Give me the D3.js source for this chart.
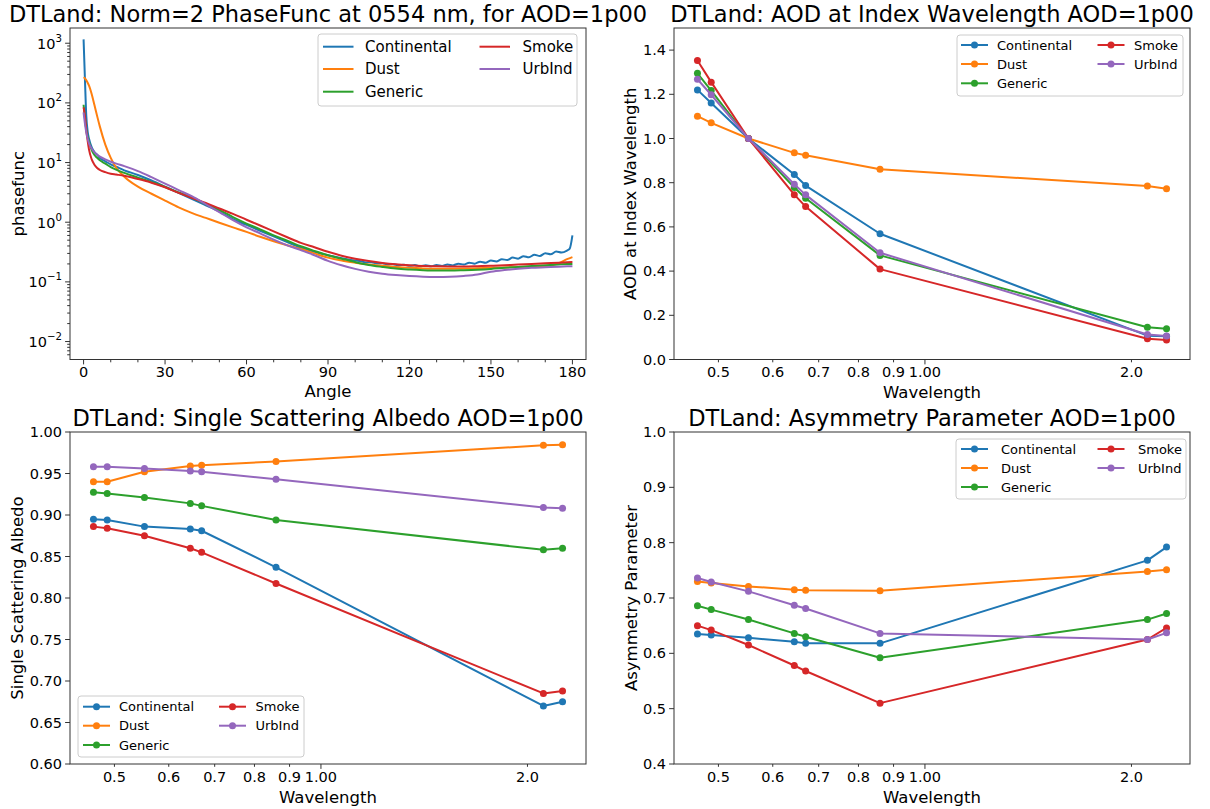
<!DOCTYPE html>
<html><head><meta charset="utf-8">
<script src="https://cdn.jsdelivr.net/npm/d3@7"></script>
<style>
body{margin:0;background:#fff;}
svg{font-family:"DejaVu Sans",sans-serif;display:block;}
</style></head><body>
<svg id="c" width="1210" height="809"></svg>
<script>
// ---------------- DATA ----------------
const seriesNames = ["Continental","Dust","Generic","Smoke","UrbInd"];
const seriesColors = ["#1f77b4","#ff7f0e","#2ca02c","#d62728","#9467bd"];

// Phase function (angle in degrees)
const angleGrid = [0,0.5,1,1.5,2,3,4,5,6,8,10,12,15,20,25,30,35,40,45,50,55,60,65,70,75,80,85,90,95,100,105,110,115,120,125,130,135,140,145,150,155,160,165,170,175,178,180];
const angleCont = [0,0.5,1,1.5,2,3,4,5,6,8,10,12,15,20,25,30,35,40,45,50,55,60,65,70,75,80,85,90,95,100,
  102,104,106,108,110,112,114,116,118,120,122,124,126,128,130,132,134,136,138,140,142,144,146,148,150,
  152,154,156,158,160,162,164,166,168,170,172,174,176,178,179,180];
const pfContinental = [1160,250,60,33,25,18,15,13.5,11.9,10.5,9.3,8.5,7.4,6.2,5.0,3.95,3.1,2.45,1.92,1.5,1.13,0.9,0.72,0.58,0.465,0.375,0.32,0.28,0.25,0.228,
  0.222,0.212,0.214,0.203,0.205,0.195,0.198,0.189,0.194,0.186,0.191,0.183,0.19,0.183,0.192,0.185,0.196,0.189,0.202,0.195,0.21,0.202,0.218,0.21,0.228,
  0.22,0.24,0.232,0.255,0.245,0.27,0.258,0.285,0.272,0.302,0.29,0.322,0.31,0.335,0.36,0.6];
const pfDust = [269,258,240,218,195,140,92,60,40,20,12,8.2,5.8,3.95,3.0,2.3,1.77,1.42,1.18,0.98,0.82,0.69,0.57,0.48,0.41,0.355,0.3,0.255,0.228,0.21,0.196,0.186,0.178,0.172,0.168,0.166,0.166,0.167,0.169,0.172,0.175,0.178,0.18,0.183,0.205,0.24,0.26];
const pfGeneric = [93,55,35,27,22,16.2,13.4,12,10.9,9.6,8.4,7.6,6.7,5.6,4.7,3.9,3.15,2.6,2.0,1.6,1.22,0.95,0.76,0.6,0.49,0.395,0.33,0.28,0.245,0.215,0.192,0.178,0.167,0.161,0.157,0.155,0.155,0.157,0.16,0.165,0.172,0.178,0.184,0.19,0.196,0.199,0.2];
const pfSmoke = [84,60,35,23,16.5,11.3,9.2,8.1,7.5,6.9,6.5,6.3,6.0,5.3,4.6,3.85,3.1,2.55,2.1,1.7,1.38,1.1,0.88,0.7,0.56,0.45,0.38,0.32,0.275,0.245,0.224,0.208,0.197,0.19,0.185,0.182,0.181,0.181,0.183,0.186,0.19,0.195,0.2,0.205,0.21,0.213,0.215];
const pfUrbInd = [69,45,32,25,21,17,14.8,13.5,12.6,11.3,10.3,9.6,8.7,7.2,5.7,4.45,3.45,2.7,2.0,1.48,1.08,0.82,0.65,0.51,0.41,0.34,0.28,0.225,0.19,0.165,0.148,0.137,0.13,0.125,0.122,0.121,0.122,0.126,0.133,0.148,0.158,0.166,0.172,0.176,0.18,0.182,0.183];

// Wavelengths (micron)
const wavelengths = [0.466,0.488,0.553,0.645,0.670,0.860,2.110,2.250];
const aodContinental = [1.220,1.161,1.000,0.837,0.787,0.569,0.108,0.105];
const aodDust        = [1.101,1.071,1.000,0.935,0.924,0.861,0.785,0.773];
const aodGeneric     = [1.295,1.217,1.000,0.778,0.730,0.471,0.146,0.139];
const aodSmoke       = [1.353,1.255,1.000,0.746,0.692,0.409,0.094,0.088];
const aodUrbInd      = [1.268,1.198,1.000,0.793,0.745,0.483,0.113,0.106];

const ssaContinental = [0.895,0.894,0.886,0.883,0.881,0.837,0.670,0.675];
const ssaDust        = [0.940,0.940,0.952,0.959,0.960,0.9645,0.984,0.9846];
const ssaGeneric     = [0.9275,0.926,0.921,0.914,0.911,0.894,0.858,0.860];
const ssaSmoke       = [0.886,0.884,0.875,0.860,0.855,0.8175,0.685,0.688];
const ssaUrbInd      = [0.958,0.958,0.956,0.953,0.952,0.943,0.909,0.908];

const asyContinental = [0.635,0.633,0.628,0.621,0.618,0.618,0.768,0.792];
const asyDust        = [0.730,0.727,0.721,0.715,0.714,0.713,0.748,0.751];
const asyGeneric     = [0.686,0.679,0.661,0.636,0.630,0.592,0.661,0.672];
const asySmoke       = [0.650,0.642,0.615,0.578,0.568,0.510,0.625,0.646];
const asyUrbInd      = [0.736,0.729,0.712,0.687,0.681,0.636,0.625,0.637];

// Axis limits and tick labels
const angleLim = [-5,185];
const angleTicks = [0,30,60,90,120,150,180];
const pfLim = [0.005,1800];
const pfTicks = [1e-2,1e-1,1e0,1e1,1e2,1e3];
const pfTickExp = ["\u22122","\u22121","0","1","2","3"];
const wlTicks = [0.5,0.6,0.7,0.8,0.9,1.0,2.0];
const wlTickLabels = ["0.5","0.6","0.7","0.8","0.9","1.00","2.0"];
const aodLim = [0,1.5];
const aodTicks = [0,0.2,0.4,0.6,0.8,1.0,1.2,1.4];
const aodTickLabels = ["0.0","0.2","0.4","0.6","0.8","1.0","1.2","1.4"];
const ssaLim = [0.6,1.0];
const ssaTicks = [0.60,0.65,0.70,0.75,0.80,0.85,0.90,0.95,1.00];
const ssaTickLabels = ["0.60","0.65","0.70","0.75","0.80","0.85","0.90","0.95","1.00"];
const asyLim = [0.4,1.0];
const asyTicks = [0.4,0.5,0.6,0.7,0.8,0.9,1.0];
const asyTickLabels = ["0.4","0.5","0.6","0.7","0.8","0.9","1.0"];

const titles = ["DTLand: Norm=2 PhaseFunc at 0554 nm, for AOD=1p00",
                "DTLand: AOD at Index Wavelength AOD=1p00",
                "DTLand: Single Scattering Albedo AOD=1p00",
                "DTLand: Asymmetry Parameter AOD=1p00"];

// ---------------- DRAWING ----------------
const svg = d3.select("#c");
const SPINE = "#333";
const TICKFS = 14.5, LABFS = 16.5, TITFS = 22.5;

const boxes = [
  {x0:70, x1:586, y0:28, y1:359.5},
  {x0:674, x1:1190, y0:28, y1:359.5},
  {x0:70, x1:586, y0:432, y1:764},
  {x0:674, x1:1190, y0:432, y1:764}
];

function frame(g, b){
  g.append("rect").attr("x",b.x0).attr("y",b.y0).attr("width",b.x1-b.x0).attr("height",b.y1-b.y0)
   .attr("fill","none").attr("stroke",SPINE).attr("stroke-width",1);
}
function xTick(g,b,px,len){
  g.append("line").attr("x1",px).attr("x2",px).attr("y1",b.y1).attr("y2",b.y1+len).attr("stroke",SPINE).attr("stroke-width",1);
}
function yTick(g,b,py,len){
  g.append("line").attr("x1",b.x0-len).attr("x2",b.x0).attr("y1",py).attr("y2",py).attr("stroke",SPINE).attr("stroke-width",1);
}
function title(g,b,t){
  g.append("text").attr("x",(b.x0+b.x1)/2).attr("y",b.y0-6).attr("text-anchor","middle")
   .attr("font-size",TITFS).attr("fill","#000").text(t);
}
function xLabel(g,b,t,dy){
  g.append("text").attr("x",(b.x0+b.x1)/2).attr("y",b.y1+dy).attr("text-anchor","middle")
   .attr("font-size",LABFS).attr("fill","#000").text(t);
}
function yLabel(g,b,t,xb){
  const cy=(b.y0+b.y1)/2;
  g.append("text").attr("transform",`translate(${xb},${cy}) rotate(-90)`).attr("text-anchor","middle")
   .attr("font-size",LABFS).attr("fill","#000").text(t);
}

function legend(g, L, withMarkers){
  g.append("rect").attr("x",L.bx0).attr("y",L.by0).attr("width",L.bx1-L.bx0).attr("height",L.by1-L.by0)
   .attr("rx",3).attr("fill","#fff").attr("fill-opacity",0.8).attr("stroke","#cccccc").attr("stroke-width",1);
  seriesNames.forEach((name,i)=>{
    const col = i<3?0:1, row = i<3?i:i-3;
    const hx0 = L.hx[col], hx1 = hx0+L.hlen, yy = L.rows[row];
    g.append("line").attr("x1",hx0).attr("x2",hx1).attr("y1",yy).attr("y2",yy)
     .attr("stroke",seriesColors[i]).attr("stroke-width",2);
    if(withMarkers) g.append("circle").attr("cx",(hx0+hx1)/2).attr("cy",yy).attr("r",3.5).attr("fill",seriesColors[i]);
    g.append("text").attr("x",L.tx[col]).attr("y",yy).attr("dominant-baseline","central")
     .attr("font-size",L.fs).attr("fill","#000").text(name);
  });
}

// ---- Panel 1: phase function ----
(function(){
  const b = boxes[0];
  const g = svg.append("g");
  const x = d3.scaleLinear().domain(angleLim).range([b.x0,b.x1]);
  const y = d3.scaleLog().domain(pfLim).range([b.y1,b.y0]);
  const pfSeries = [
    {a:angleCont, v:pfContinental},
    {a:angleGrid, v:pfDust},
    {a:angleGrid, v:pfGeneric},
    {a:angleGrid, v:pfSmoke},
    {a:angleGrid, v:pfUrbInd}
  ];
  const line = d3.line().x(d=>x(d[0])).y(d=>y(d[1])).curve(d3.curveMonotoneX);
  pfSeries.forEach((s,i)=>{
    g.append("path").attr("d",line(s.a.map((a,k)=>[a,s.v[k]])))
     .attr("fill","none").attr("stroke",seriesColors[i]).attr("stroke-width",2).attr("stroke-linejoin","round");
  });
  frame(g,b);
  // x ticks
  d3.range(0,181,10).forEach(a=>{ if(a%30!==0) xTick(g,b,x(a),2.8); });
  angleTicks.forEach(a=>{
    xTick(g,b,x(a),4.9);
    g.append("text").attr("x",x(a)).attr("y",b.y1+17.5).attr("text-anchor","middle")
     .attr("font-size",TICKFS).attr("fill","#000").text(a);
  });
  // y ticks
  for(let k=-3;k<=3;k++){ for(let m=2;m<=9;m++){ const v=m*Math.pow(10,k); if(v>pfLim[0]&&v<pfLim[1]) yTick(g,b,y(v),2.8);} }
  pfTicks.forEach((v,i)=>{
    const py=y(v);
    yTick(g,b,py,4.9);
    const t=g.append("text").attr("x",b.x0-8).attr("y",py+5.5).attr("text-anchor","end")
      .attr("font-size",TICKFS).attr("fill","#000");
    t.append("tspan").text("10");
    t.append("tspan").attr("dy",-7).attr("font-size",10.2).text(pfTickExp[i]);
  });
  title(g,b,titles[0]);
  xLabel(g,b,"Angle",37);
  yLabel(g,b,"phasefunc",24);
  legend(g,{bx0:318,bx1:577,by0:34,by1:106,rows:[46.7,69,91.7],hx:[323,479.5],hlen:30.5,tx:[365,522.5],fs:15},false);
})();

// ---- Wavelength panels ----
const lw = d3.extent(wavelengths).map(Math.log10);
const pad = (lw[1]-lw[0])*0.05;
const wlLim = [Math.pow(10,lw[0]-pad), Math.pow(10,lw[1]+pad)];

function wlPanel(b, yLim, yTicks, yTickLabels, sets, ttl, ylab, ylabX, xlabDy, L){
  const g = svg.append("g");
  const x = d3.scaleLog().domain(wlLim).range([b.x0,b.x1]);
  const y = d3.scaleLinear().domain(yLim).range([b.y1,b.y0]);
  const line = d3.line().x(d=>x(d[0])).y(d=>y(d[1]));
  sets.forEach((vals,i)=>{
    const pts = wavelengths.map((w,k)=>[w,vals[k]]);
    g.append("path").attr("d",line(pts)).attr("fill","none").attr("stroke",seriesColors[i]).attr("stroke-width",2).attr("stroke-linejoin","round");
    g.selectAll(null).data(pts).enter().append("circle")
      .attr("cx",d=>x(d[0])).attr("cy",d=>y(d[1])).attr("r",3.5).attr("fill",seriesColors[i]);
  });
  frame(g,b);
  wlTicks.forEach((w,i)=>{
    xTick(g,b,x(w), w===1.0?4.9:2.8);
    g.append("text").attr("x",x(w)).attr("y",b.y1+17.5).attr("text-anchor","middle")
     .attr("font-size",TICKFS).attr("fill","#000").text(wlTickLabels[i]);
  });
  yTicks.forEach((v,i)=>{
    yTick(g,b,y(v),4.9);
    g.append("text").attr("x",b.x0-8).attr("y",y(v)).attr("dominant-baseline","central").attr("text-anchor","end")
     .attr("font-size",TICKFS).attr("fill","#000").text(yTickLabels[i]);
  });
  title(g,b,ttl);
  xLabel(g,b,"Wavelength",xlabDy);
  yLabel(g,b,ylab,ylabX);
  legend(g,L,true);
}

wlPanel(boxes[1], aodLim, aodTicks, aodTickLabels,
  [aodContinental,aodDust,aodGeneric,aodSmoke,aodUrbInd],
  titles[1], "AOD at Index Wavelength", 636, 38.5,
  {bx0:957,bx1:1183,by0:35,by1:96,rows:[45,64,83.3],hx:[961,1097.5],hlen:27,tx:[997,1134],fs:13});

wlPanel(boxes[2], ssaLim, ssaTicks, ssaTickLabels,
  [ssaContinental,ssaDust,ssaGeneric,ssaSmoke,ssaUrbInd],
  titles[2], "Single Scattering Albedo", 23, 39,
  {bx0:78,bx1:304,by0:696,by1:757,rows:[706.7,725.7,745],hx:[83,219],hlen:27,tx:[119,255.5],fs:13});

wlPanel(boxes[3], asyLim, asyTicks, asyTickLabels,
  [asyContinental,asyDust,asyGeneric,asySmoke,asyUrbInd],
  titles[3], "Asymmetry Parameter", 637, 39,
  {bx0:956,bx1:1186,by0:439,by1:499,rows:[449,468,487],hx:[961,1097.5],hlen:27,tx:[1001,1138],fs:13});
</script>
</body></html>
